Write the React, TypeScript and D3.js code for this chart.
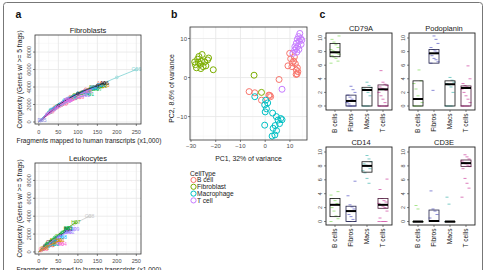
import React from 'react';
import * as d3 from 'd3';

const W = 486, H = 270;
const FONT = "'Liberation Sans', Arial, Helvetica, sans-serif";

// ---------- Panel a data (fragments x1000, genes) ----------
const aXTicks = [0, 50, 100, 150, 200, 250];
const aYTicks = [0, 2000, 4000, 6000, 8000];

const fibroNames = ["G06", "A01", "B03", "C04", "E02", "F06", "G07", "H01", "A09", "B11", "C12", "D02", "E08", "F10", "G03", "H05", "A06", "B08", "D05"];
const fibroCurves: number[][][] = [
  [[0, 0], [30, 1300], [70, 2600], [110, 3450], [150, 4150], [200, 5100], [250, 6000]],
  [[0, 0], [40, 1700], [80, 2900], [120, 3750], [160, 4400]],
  [[0, 0], [40, 1600], [85, 2800], [130, 3700], [170, 4200]],
  [[0, 0], [35, 1400], [75, 2500], [115, 3300], [155, 4000]],
  [[0, 0], [30, 1300], [70, 2500], [110, 3300], [165, 4100]],
  [[0, 0], [45, 1800], [90, 3100], [140, 4000]],
  [[0, 0], [40, 1500], [80, 2600], [125, 3400], [150, 3800]],
  [[0, 0], [30, 1100], [60, 2000], [95, 2700], [130, 3200]],
  [[0, 0], [35, 1150], [70, 2050], [105, 2800]],
  [[0, 0], [25, 1100], [55, 2000], [90, 2900], [120, 3400]],
  [[0, 0], [30, 1400], [65, 2500], [100, 3300], [140, 3900]],
  [[0, 0], [40, 1400], [80, 2400], [120, 3100]],
  [[0, 0], [45, 1700], [90, 2950], [135, 3800], [160, 4200]],
  [[0, 0], [25, 1000], [50, 1800], [80, 2600]],
  [[0, 0], [35, 1500], [75, 2700], [120, 3600], [145, 4000]],
  [[0, 0], [30, 1200], [60, 2200], [100, 3100], [125, 3500]],
  [[0, 0], [50, 1900], [100, 3250], [150, 4150], [168, 4450]],
  [[0, 0], [20, 900], [45, 1700], [75, 2500]],
  [[0, 0], [4, 150], [8, 250]],
];
const fibroColors = ["#7fd3d3", "#F8766D", "#E58700", "#C99800", "#A3A500", "#6BB100", "#00BA38", "#00BF7D", "#FF67A4", "#00C0AF", "#00BCD8", "#B385FF", "#00B0F6", "#FB61D7", "#619CFF", "#EF67EB", "#222222", "#E76BF3", "#8f8fe0"];

const leukoNames = ["G08", "H07", "C09", "A10", "B02", "D10", "E04", "F01", "G11", "H02", "A03", "B05", "C06", "D08", "E12", "F09", "G05", "H11"];
const leukoCurves: number[][][] = [
  [[0, 0], [25, 1100], [55, 2100], [90, 3100], [130, 4000]],
  [[0, 0], [20, 900], [45, 1800], [70, 2600], [95, 3300]],
  [[0, 0], [20, 800], [45, 1600], [70, 2200], [92, 2600]],
  [[0, 0], [20, 700], [45, 1500], [75, 2300]],
  [[0, 0], [15, 700], [30, 1200], [55, 1900], [75, 2500]],
  [[0, 0], [15, 400], [30, 800], [50, 1100]],
  [[0, 0], [15, 350], [35, 700], [60, 900]],
  [[0, 0], [10, 300], [20, 550], [30, 800]],
  [[0, 0], [8, 250], [15, 450]],
  [[0, 0], [10, 300], [25, 600], [40, 850]],
  [[0, 0], [12, 400], [28, 800], [45, 1200]],
  [[0, 0], [10, 400], [25, 900], [40, 1300]],
  [[0, 0], [15, 600], [30, 1100]],
  [[0, 0], [20, 700], [40, 1200], [60, 1600]],
  [[0, 0], [25, 900], [50, 1700], [80, 2200]],
  [[0, 0], [20, 900], [40, 1600], [60, 2200], [75, 2700]],
  [[0, 0], [5, 150], [12, 350]],
  [[0, 0], [20, 600], [40, 1000], [55, 1300]],
];
const leukoColors = ["#c8c8c8", "#53B400", "#A58AFF", "#619CFF", "#222222", "#F8766D", "#FB61D7", "#E58700", "#C49A00", "#00C0B8", "#E76BF3", "#99A800", "#6b4a2a", "#00A9FF", "#B385FF", "#00BC56", "#FF6C91", "#D89000"];

// ---------- Panel b data ----------
const cellTypes = ["B cell", "Fibroblast", "Macrophage", "T cell"];
const cellColors = ["#F8766D", "#7CAE00", "#00BFC4", "#C77CFF"];
const bXTicks = [-30, -20, -10, 0, 10];
const bYTicks = [-10, 0, 10];
const bcellPts = [[-6.5, -3.6], [-4.2, -3.9], [1.5, -4.5], [2.2, -4.9], [1.9, -4.6], [5.6, -0.5], [-1.5, -5.8], [9.9, 6.2], [9.2, 3.0], [12.6, 1.9], [12.9, 0.9], [11.5, 4.2], [12.2, 3.5], [10.8, 2.8], [13.0, 2.5], [11.8, 5.3], [12.5, 0.8], [10.3, 4.8], [13.2, 1.5], [11.0, 3.8]];
const fibroPts = [[-28.5, 4.0], [-27.3, 4.7], [-25.5, 5.9], [-26.8, 5.4], [-28.2, 3.3], [-27.8, 2.5], [-26.2, 3.4], [-25.1, 2.8], [-24.5, 4.0], [-24.0, 3.0], [-23.3, 4.5], [-22.9, 5.0], [-26.0, 2.3], [-21.0, 2.0], [-4.5, 0.6], [-1.5, -3.8], [-27.0, 3.9], [-25.8, 4.2]];
const macroPts = [[-4.2, -4.9], [0.2, -5.8], [-0.2, -7.0], [0.5, -8.0], [0.0, -8.8], [3.0, -9.1], [4.5, -10.0], [5.2, -10.9], [6.3, -10.5], [5.8, -11.8], [4.0, -12.3], [3.2, -13.0], [-0.2, -12.2], [4.6, -13.6], [3.9, -14.7], [2.8, -15.0], [1.0, -6.5], [6.8, -10.8]];
const tcellPts = [[14.0, 11.3], [13.5, 10.5], [12.6, 8.8], [13.8, 9.3], [11.9, 7.0], [11.2, 6.2], [12.5, 7.5], [13.2, 8.0], [14.3, 10.0], [13.0, 9.8], [12.0, 7.9], [14.5, 8.5], [13.6, 7.2], [14.8, 9.6], [12.8, 6.5], [6.8, -3.0]];
const pcaSets = [bcellPts, fibroPts, macroPts, tcellPts];

// ---------- Panel c data ----------
const groups = ["B cells", "Fibros", "Macs", "T cells"];
const groupColors = ["#7ED957", "#5454C4", "#3FB3AD", "#CC3D9C"];
const groupStroke = ["#111111", "#22224a", "#111111", "#4a1838"];
const cYTicks = [0, 2, 4, 6, 8, 10];
const genes = ["CD79A", "Podoplanin", "CD14", "CD3E"];
// [q1, median, q3] per group
const cd79aBox = [[7.25, 7.9, 9.2], [0, 0.74, 1.6], [0, 2.35, 2.75], [0, 2.45, 3.1]];
const podoBox = [[0, 1.03, 3.7], [6.3, 7.75, 8.3], [0, 3.2, 3.7], [0, 2.65, 2.95]];
const cd14Box = [[0.7, 2.4, 3.3], [0, 1.5, 2.2], [7.1, 8.0, 8.6], [1.9, 2.4, 3.3]];
const cd3eBox = [[0, 0, 0], [0, 0.07, 1.65], [0, 0, 0], [7.9, 8.4, 8.85]];
const cd79aPts = [
  [6.3, 6.6, 7.0, 7.2, 7.4, 7.6, 7.8, 8.0, 8.1, 8.3, 8.6, 9.0, 9.4, 9.8, 10.3],
  [0, 0, 0, 0, 0, 0.3, 0.5, 0.8, 1.0, 1.3, 1.6, 2.0, 2.4, 2.9],
  [0, 0, 0, 0, 1.5, 2.0, 2.3, 2.5, 2.7, 3.0, 3.5],
  [0, 0, 0, 0, 0, 0, 0.5, 1.0, 1.5, 2.0, 2.3, 2.5, 2.6, 2.8, 3.0, 3.2, 3.5, 5.2],
];
const podoPts = [
  [0, 0, 0, 0, 0, 0.5, 1.0, 1.5, 2.5, 3.3, 3.7, 5.3],
  [2.3, 6.3, 6.5, 6.8, 7.0, 7.4, 7.7, 7.9, 8.1, 8.3, 8.6, 9.2, 9.8, 10.3],
  [0, 0, 0, 0, 2.0, 2.8, 3.1, 3.3, 3.5, 3.8, 4.2],
  [0, 0, 0, 0, 0, 0.5, 1.0, 1.5, 2.0, 2.5, 2.7, 2.8, 3.0, 3.3, 4.0, 5.9],
];
const cd14Pts = [
  [0, 0.4, 0.8, 1.5, 2.0, 2.4, 2.6, 3.0, 3.3, 3.8, 4.3],
  [0, 0, 0, 0.3, 0.7, 1.0, 1.5, 1.8, 2.1, 2.4, 3.7, 5.8],
  [5.5, 6.2, 7.0, 7.3, 7.6, 7.9, 8.1, 8.3, 8.6, 9.0, 9.5],
  [0, 0, 0, 0, 0.5, 1.5, 2.0, 2.2, 2.4, 2.6, 2.8, 3.0, 3.3, 4.6, 6.1],
];
const cd3ePts = [
  [0, 0, 0, 0, 0, 0, 0, 1.8, 2.3],
  [0, 0, 0, 0, 0, 0, 0.5, 1.0, 1.5, 1.8, 4.4],
  [0, 0, 0, 0, 0, 0, 2.5, 3.5],
  [3.5, 4.8, 5.5, 6.2, 7.6, 7.9, 8.1, 8.3, 8.5, 8.7, 9.0, 9.3, 9.6],
];
const geneBoxes = [cd79aBox, podoBox, cd14Box, cd3eBox];
const genePts = [cd79aPts, podoPts, cd14Pts, cd3ePts];

// ---------- Panel a ----------
function CurvePanel(props: { title: string; curves: number[][][]; names: string[]; colors: string[]; top: number; bottom: number; titleY: number; tickY: number; labelY: number }) {
  const { title, curves, names, colors, top, bottom, titleY, tickY, labelY } = props;
  const left = 35, right = 141;
  const x = d3.scaleLinear().domain([-10, 262]).range([left, right]);
  const y = d3.scaleLinear().domain([-230, 9950]).range([bottom, top]);
  const line = d3.line<number[]>().x(d => x(d[0])).y(d => y(d[1])).curve(d3.curveMonotoneX);
  const minorX = [25, 75, 125, 175, 225];
  const minorY = [1000, 3000, 5000, 7000, 9000];
  return (
    <g>
      <text x={(left + right) / 2} y={titleY} fontSize={7.5} textAnchor="middle" fill="#1a1a1a">{title}</text>
      <rect x={left} y={top} width={right - left} height={bottom - top} fill="#fff" />
      {minorX.map(v => <line key={'mx' + v} x1={x(v)} x2={x(v)} y1={top} y2={bottom} stroke="#f2f2f2" strokeWidth={0.5} />)}
      {minorY.map(v => <line key={'my' + v} y1={y(v)} y2={y(v)} x1={left} x2={right} stroke="#f2f2f2" strokeWidth={0.5} />)}
      {aXTicks.map(v => <line key={'gx' + v} x1={x(v)} x2={x(v)} y1={top} y2={bottom} stroke="#e6e6e6" strokeWidth={0.8} />)}
      {aYTicks.map(v => <line key={'gy' + v} y1={y(v)} y2={y(v)} x1={left} x2={right} stroke="#e6e6e6" strokeWidth={0.8} />)}
      {curves.map((c, i) => (
        <g key={'c' + i}>
          <path d={line(c) || ''} fill="none" stroke={colors[i % colors.length]} strokeWidth={0.9} opacity={0.9} />
          {c.slice(1).map((p, j) => <circle key={j} cx={x(p[0])} cy={y(p[1])} r={1.4} fill="none" stroke={colors[i % colors.length]} strokeWidth={0.6} />)}
          <text x={x(c[c.length - 1][0])} y={y(c[c.length - 1][1]) + 1.8} fontSize={5} textAnchor="middle" fill={colors[i % colors.length]}>{names[i]}</text>
        </g>
      ))}
      <rect x={left} y={top} width={right - left} height={bottom - top} fill="none" stroke="#333" strokeWidth={0.8} />
      {aXTicks.map(v => (
        <g key={'tx' + v}>
          <line x1={x(v)} x2={x(v)} y1={bottom} y2={bottom + 2} stroke="#333" strokeWidth={0.6} />
          <text x={x(v)} y={tickY} fontSize={5.6} textAnchor="middle" fill="#4d4d4d">{v}</text>
        </g>
      ))}
      {aYTicks.map(v => (
        <g key={'ty' + v}>
          <line x1={left - 2} x2={left} y1={y(v)} y2={y(v)} stroke="#333" strokeWidth={0.6} />
          <text transform={`translate(${left - 4},${y(v)}) rotate(-90)`} fontSize={5.6} textAnchor="middle" fill="#4d4d4d">{v}</text>
        </g>
      ))}
      <text transform={`translate(${left - 13},${(top + bottom) / 2}) rotate(-90)`} fontSize={6.6} textAnchor="middle" fill="#1a1a1a">Complexity (Genes w/ &gt;= 5 frags)</text>
      <text x={(left + right) / 2 + 1} y={labelY} fontSize={6.6} textAnchor="middle" fill="#1a1a1a">Fragments mapped to human transcripts (x1,000)</text>
    </g>
  );
}

// ---------- Panel b ----------
function PcaPanel() {
  const left = 190, right = 307, top = 27, bottom = 140;
  const x = d3.scaleLinear().domain([-30.4, 16.9]).range([left, right]);
  const y = d3.scaleLinear().domain([-16.0, 12.95]).range([bottom, top]);
  const minorX = [-25, -15, -5, 5, 15];
  const minorY = [-15, -5, 5];
  return (
    <g>
      <rect x={left} y={top} width={right - left} height={bottom - top} fill="#fff" />
      {minorX.map(v => <line key={'mx' + v} x1={x(v)} x2={x(v)} y1={top} y2={bottom} stroke="#f2f2f2" strokeWidth={0.5} />)}
      {minorY.map(v => <line key={'my' + v} y1={y(v)} y2={y(v)} x1={left} x2={right} stroke="#f2f2f2" strokeWidth={0.5} />)}
      {bXTicks.map(v => <line key={'gx' + v} x1={x(v)} x2={x(v)} y1={top} y2={bottom} stroke="#e6e6e6" strokeWidth={0.8} />)}
      {bYTicks.map(v => <line key={'gy' + v} y1={y(v)} y2={y(v)} x1={left} x2={right} stroke="#e6e6e6" strokeWidth={0.8} />)}
      {pcaSets.map((set, k) => set.map((p, i) => (
        <circle key={k + '-' + i} cx={x(p[0])} cy={y(p[1])} r={3} fill="none" stroke={cellColors[k]} strokeWidth={1} />
      )))}
      <rect x={left} y={top} width={right - left} height={bottom - top} fill="none" stroke="#333" strokeWidth={0.8} />
      {bXTicks.map(v => (
        <g key={'tx' + v}>
          <line x1={x(v)} x2={x(v)} y1={bottom} y2={bottom + 2} stroke="#333" strokeWidth={0.6} />
          <text x={x(v)} y={bottom + 8} fontSize={6} textAnchor="middle" fill="#4d4d4d">{v < 0 ? '\u2212' + Math.abs(v) : v}</text>
        </g>
      ))}
      {bYTicks.map(v => (
        <g key={'ty' + v}>
          <line x1={left - 2} x2={left} y1={y(v)} y2={y(v)} stroke="#333" strokeWidth={0.6} />
          <text x={left - 3} y={y(v) + 2} fontSize={6} textAnchor="end" fill="#4d4d4d">{v < 0 ? '\u2212' + Math.abs(v) : v}</text>
        </g>
      ))}
      <text x={(left + right) / 2} y={160.5} fontSize={6.9} textAnchor="middle" fill="#1a1a1a">PC1, 32% of variance</text>
      <text transform={`translate(${174},${(top + bottom) / 2 + 5}) rotate(-90)`} fontSize={6.9} textAnchor="middle" fill="#1a1a1a">PC2, 8.6% of variance</text>
      <text x={190} y={175.5} fontSize={6.6} fill="#1a1a1a">CellType</text>
      {cellTypes.map((c, i) => (
        <g key={c}>
          <circle cx={193.5} cy={180 + i * 6.8} r={2.6} fill="none" stroke={cellColors[i]} strokeWidth={1} />
          <text x={197} y={182.3 + i * 6.8} fontSize={6.6} fill="#1a1a1a">{c}</text>
        </g>
      ))}
    </g>
  );
}

// ---------- Panel c ----------
function BoxPanel(props: { gi: number; left: number; top: number; bottom: number; zeroY: number; tenY: number }) {
  const { gi, left, top, bottom, zeroY, tenY } = props;
  const width = 66;
  const x = d3.scalePoint<string>().domain(groups).range([left + 9, left + width - 9]);
  const y = d3.scaleLinear().domain([0, 10]).range([zeroY, tenY]);
  const boxes = geneBoxes[gi];
  const pts = genePts[gi];
  const bw = 10;
  return (
    <g>
      <text x={left + width / 2 + 2} y={top - 2.5} fontSize={7.5} textAnchor="middle" fill="#1a1a1a">{genes[gi]}</text>
      {groups.map((g, k) => {
        const cx = x(g) as number;
        const [q1, med, q3] = boxes[k];
        return (
          <g key={g}>
            {pts[k].map((v, i) => {
              const off = (((i * 7 + k * 3) % 9) - 4) * 1.0;
              return <line key={i} x1={cx + off - 1.5} x2={cx + off + 1.5} y1={y(v)} y2={y(v)} stroke={groupColors[k]} strokeWidth={0.9} opacity={0.75} />;
            })}
            <rect x={cx - bw / 2} y={y(q3)} width={bw} height={Math.max(0.6, y(q1) - y(q3))} fill="none" stroke={groupStroke[k]} strokeWidth={0.8} />
            <line x1={cx - bw / 2} x2={cx + bw / 2} y1={y(med)} y2={y(med)} stroke="#000" strokeWidth={2} />
          </g>
        );
      })}
      <rect x={left} y={top} width={width} height={bottom - top} fill="none" stroke="#222" strokeWidth={0.9} />
      {cYTicks.map(v => (
        <g key={v}>
          <line x1={left - 2} x2={left} y1={y(v)} y2={y(v)} stroke="#333" strokeWidth={0.6} />
          <text transform={`translate(${left - 4},${y(v)}) rotate(-90)`} fontSize={5.4} textAnchor="middle" fill="#4d4d4d">{v}</text>
        </g>
      ))}
      {groups.map(g => (
        <g key={'l' + g}>
          <line x1={x(g) as number} x2={x(g) as number} y1={bottom} y2={bottom + 2} stroke="#333" strokeWidth={0.6} />
          <text transform={`translate(${(x(g) as number) + 2.3},${bottom + 3.5}) rotate(-90)`} fontSize={6.6} textAnchor="end" fill="#1a1a1a">{g}</text>
        </g>
      ))}
    </g>
  );
}

export default function App() {
  return (
    <svg width={W} height={H} style={{ position: 'absolute', left: 0, top: 0, background: '#fff' }} fontFamily={FONT}>
      <rect x={0} y={0} width={W} height={H} fill="#fff" />
      <text x={15.5} y={17.5} fontSize={10.5} fontWeight="bold" fill="#111">a</text>
      <text x={171} y={18} fontSize={10.5} fontWeight="bold" fill="#111">b</text>
      <text x={319.5} y={18} fontSize={10.5} fontWeight="bold" fill="#111">c</text>
      <CurvePanel title="Fibroblasts" curves={fibroCurves} names={fibroNames} colors={fibroColors} top={35} bottom={124} titleY={32.5} tickY={133.5} labelY={143} />
      <CurvePanel title="Leukocytes" curves={leukoCurves} names={leukoNames} colors={leukoColors} top={163} bottom={254} titleY={161} tickY={262.5} labelY={271.5} />
      <PcaPanel />
      <BoxPanel gi={0} left={326} top={33} bottom={110} zeroY={106} tenY={38} />
      <BoxPanel gi={1} left={409} top={33} bottom={110} zeroY={106} tenY={38} />
      <BoxPanel gi={2} left={326} top={147} bottom={225} zeroY={221.5} tenY={152} />
      <BoxPanel gi={3} left={409} top={147} bottom={225} zeroY={221.5} tenY={152} />
      <rect x={3.5} y={2.5} width={479} height={290} rx={3} fill="none" stroke="#777" strokeWidth={1} />
    </svg>
  );
}
